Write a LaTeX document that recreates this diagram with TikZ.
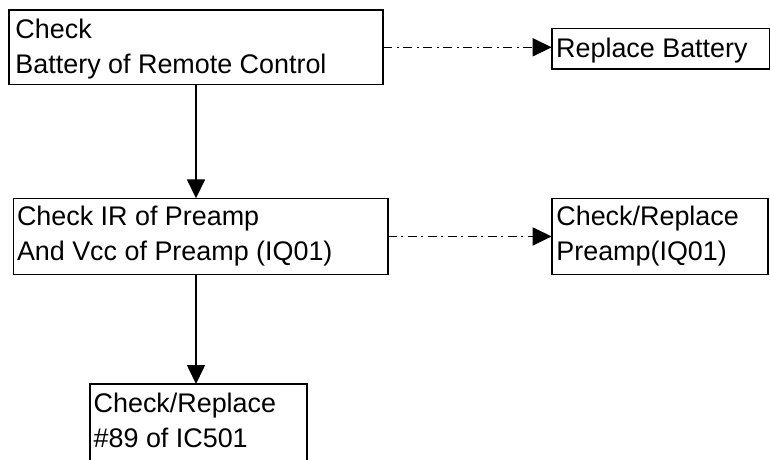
\documentclass[tikz,border=0pt]{standalone}
\usepackage{fontspec}
\setmainfont{Liberation Sans}
\usetikzlibrary{arrows.meta}
\newcommand{\bxtext}[3]{\parbox[t][#2][t]{#1}{\strut #3}}
\begin{document}
\begin{tikzpicture}[x=1pt,y=-1pt,
  box/.style={draw, line width=1.6pt, anchor=north west, font=\fontsize{26.9}{35.5}\selectfont, inner sep=0pt, outer sep=0pt},
  flow/.style={line width=1.6pt, -{Triangle[length=19pt,width=18pt]}},
  alt/.style={line width=1.5pt, dash pattern=on 9pt off 4.5pt on 2pt off 4.5pt, -{Triangle[length=19pt,width=18pt]}}]
\clip (0,0) rectangle (770,459);
\fill[white] (0,0) rectangle (770,459);
\node[box, inner xsep=6.5pt, inner ysep=3.3pt] (b1) at (9,10) {\bxtext{361pt}{68pt}{Check\\Battery of Remote Control}};
\node[box, inner xsep=3.7pt, inner ysep=2pt] (b2) at (13.3,198.3) {\bxtext{367pt}{72.3pt}{Check IR of Preamp\\And Vcc of Preamp (IQ01)}};
\node[box, inner xsep=4.5pt, inner ysep=4pt] (rb) at (551.7,28.3) {\bxtext{209pt}{32.6pt}{Replace Battery}};
\node[box, inner xsep=4.7pt, inner ysep=2pt] (pre) at (551.7,198.3) {\bxtext{207pt}{72.3pt}{Check/Replace\\Preamp(IQ01)}};
\node[box, inner xsep=3.7pt, inner ysep=3.3pt] (b3) at (90,384) {\bxtext{209.3pt}{93pt}{Check/Replace\\\#89 of IC501}};
\draw[flow] (b1.south) -- (b1.south |- b2.north);
\draw[flow] (b2.south -| b1.south) -- (b3.north -| b1.south);
\draw[alt] (b1.east) -- (b1.east -| rb.west);
\draw[alt] (b2.east) -- (b2.east -| pre.west);
\end{tikzpicture}
\end{document}
